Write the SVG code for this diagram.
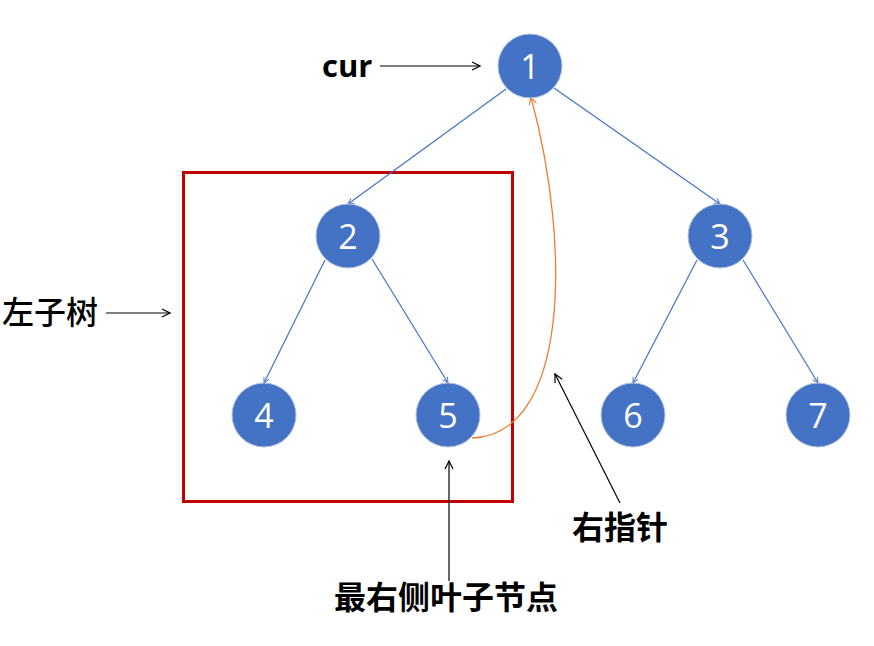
<svg xmlns="http://www.w3.org/2000/svg" width="874" height="646" viewBox="0 0 874 646">
<style>
.node circle{fill:#4472C4;stroke:#B4C3E3;stroke-width:1}
.node text{fill:#fff;font-family:"Open Sans","Liberation Sans",sans-serif;font-size:34px;text-anchor:middle;dominant-baseline:central}
.edge{stroke:#4472C4;stroke-width:1.2;fill:none;marker-end:url(#ab)}
.ptr{stroke:#000;stroke-width:1.2;fill:none;marker-end:url(#ak)}
.lbl{font-family:"Noto Sans CJK SC","Liberation Sans",sans-serif;font-size:32px;fill:#000}
</style>
<defs>
<marker id="ab" viewBox="0 0 10 10" refX="9" refY="5" markerWidth="7" markerHeight="7" orient="auto" markerUnits="userSpaceOnUse"><path d="M1,1 L9,5 L1,9" fill="none" stroke="#4472C4" stroke-width="1.3"/></marker>
<marker id="ao" viewBox="0 0 10 10" refX="9" refY="5" markerWidth="9" markerHeight="9" orient="auto" markerUnits="userSpaceOnUse"><path d="M1,1 L9,5 L1,9" fill="none" stroke="#ED7D31" stroke-width="1.3"/></marker>
<marker id="ak" viewBox="0 0 10 10" refX="9" refY="5" markerWidth="10" markerHeight="10" orient="auto" markerUnits="userSpaceOnUse"><path d="M1,1 L9,5 L1,9" fill="none" stroke="#000" stroke-width="1.2"/></marker>
</defs>
<rect id="left-subtree-box" x="183.5" y="172.5" width="329" height="329" fill="none" stroke="#C00000" stroke-width="3"/>
<g id="connectors">
<line class="edge" x1="506" y1="89" x2="348" y2="204"/>
<line class="edge" x1="554" y1="88" x2="720" y2="204"/>
<line class="edge" x1="325" y1="260" x2="264" y2="383"/>
<line class="edge" x1="372" y1="259" x2="448" y2="383"/>
<line class="edge" x1="697" y1="260" x2="633" y2="383"/>
<line class="edge" x1="743" y1="260" x2="818" y2="383"/>
<path d="M472,438 C568,435 572,250 531,97" fill="none" stroke="#ED7D31" stroke-width="1.3" marker-end="url(#ao)"/>
<line class="ptr" x1="380" y1="66" x2="480" y2="66"/>
<line class="ptr" x1="106" y1="313" x2="170" y2="313"/>
<line class="ptr" x1="620" y1="503" x2="555" y2="374"/>
<line class="ptr" x1="449" y1="581" x2="449" y2="461"/>
</g>
<g id="n1" class="node"><circle cx="530" cy="66" r="32"/><text x="530" y="66">1</text></g>
<g id="n2" class="node"><circle cx="348" cy="236" r="32"/><text x="348" y="236">2</text></g>
<g id="n3" class="node"><circle cx="720" cy="236" r="32"/><text x="720" y="236">3</text></g>
<g id="n4" class="node"><circle cx="264" cy="415" r="32"/><text x="264" y="415">4</text></g>
<g id="n5" class="node"><circle cx="448" cy="415" r="32"/><text x="448" y="415">5</text></g>
<g id="n6" class="node"><circle cx="633" cy="415" r="32"/><text x="633" y="415">6</text></g>
<g id="n7" class="node"><circle cx="818" cy="415" r="32"/><text x="818" y="415">7</text></g>
<text x="322" y="77" font-family="'Open Sans','Liberation Sans',sans-serif" font-size="31" font-weight="bold" fill="#000">cur</text>
<text class="lbl" x="2" y="324" font-weight="500">左子树</text>
<text class="lbl" x="572" y="539" font-weight="bold">右指针</text>
<text class="lbl" x="334" y="609" font-weight="bold">最右侧叶子节点</text>
</svg>
